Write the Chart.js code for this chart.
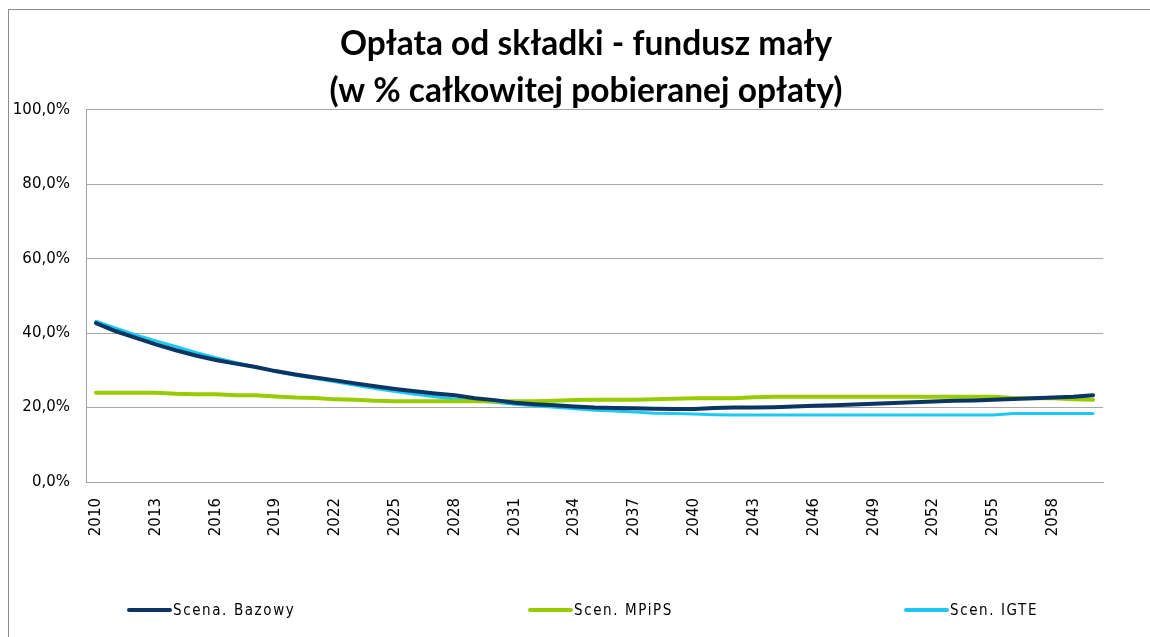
<!DOCTYPE html>
<html>
<head>
<meta charset="utf-8">
<script src="https://cdn.jsdelivr.net/npm/chart.js@4.4.1/dist/chart.umd.min.js"></script>
<style>
    body { margin: 0; background: #fff; }
    #wrap { position: relative; width: 1150px; height: 637px; overflow: hidden; }
    #frame { position: absolute; left: 8px; top: 9px; width: 1200px; height: 700px;
             border-left: 1px solid #8c8c8c; border-top: 1px solid #8c8c8c; pointer-events: none; }
    .leg { position: absolute; top: 600px; height: 20px; display: flex; align-items: center;
           font-family: 'Liberation Sans Narrow', 'DejaVu Sans Condensed', sans-serif;
           font-size: 15px; letter-spacing: 1.6px; color: #000; }
    .leg span.ln { display: inline-block; width: 45px; height: 4px; border-radius: 2px; margin-right: 1px; }
</style>
</head>
<body>
<div id="wrap">
    <canvas id="feeChart" width="1150" height="637"></canvas>
    <div id="frame"></div>
</div>
<script>
// Years 2010..2060
const years = ['2010','2011','2012','2013','2014','2015','2016','2017','2018','2019',
    '2020','2021','2022','2023','2024','2025','2026','2027','2028','2029',
    '2030','2031','2032','2033','2034','2035','2036','2037','2038','2039',
    '2040','2041','2042','2043','2044','2045','2046','2047','2048','2049',
    '2050','2051','2052','2053','2054','2055','2056','2057','2058','2059','2060'];

// Share of total fee, in %
const bazowy = [42.7, 40.5, 38.7, 37.0, 35.4, 34.0, 32.8, 31.8, 30.9, 29.8,
    28.9, 28.1, 27.3, 26.5, 25.7, 25.0, 24.4, 23.8, 23.3, 22.5,
    22.0, 21.3, 20.9, 20.6, 20.3, 20.0, 19.9, 19.8, 19.7, 19.6,
    19.6, 19.9, 20.0, 20.0, 20.1, 20.3, 20.5, 20.6, 20.8, 21.0,
    21.2, 21.4, 21.6, 21.8, 21.9, 22.1, 22.3, 22.5, 22.7, 22.9, 23.3];

const mpips = [24.0, 24.0, 24.0, 24.0, 23.7, 23.6, 23.6, 23.3, 23.3, 23.0,
    22.7, 22.6, 22.2, 22.1, 21.8, 21.7, 21.7, 21.7, 21.7, 21.7,
    21.7, 21.7, 21.7, 21.8, 22.0, 22.1, 22.1, 22.1, 22.2, 22.4,
    22.5, 22.5, 22.5, 22.8, 22.9, 22.9, 22.9, 22.9, 22.9, 22.9,
    22.9, 22.9, 22.9, 22.9, 22.9, 22.9, 22.6, 22.5, 22.5, 22.2, 22.1];

const igte = [43.2, 41.3, 39.5, 37.9, 36.4, 34.8, 33.4, 32.1, 31.0, 29.7,
    28.7, 27.8, 26.9, 26.0, 25.1, 24.3, 23.6, 22.9, 22.3, 21.8,
    21.4, 20.9, 20.5, 20.1, 19.7, 19.3, 19.1, 18.8, 18.5, 18.4,
    18.3, 18.1, 18.0, 18.0, 18.0, 18.0, 18.0, 18.0, 18.0, 18.0,
    18.0, 18.0, 18.0, 18.0, 18.0, 18.0, 18.4, 18.4, 18.4, 18.4, 18.4];

const seriesNames = ['Scena. Bazowy', 'Scen. MPiPS', 'Scen. IGTE'];
const yTicks = [0, 20, 40, 60, 80, 100];

// let the y labels use the space left of the layout padding (no clipping at the scale's left edge)
const widenYLabels = {
    id: 'widenYLabels',
    afterLayout(chart) {
        chart.scales.y.left = 0;
    }
};

const ctx = document.getElementById('feeChart').getContext('2d');

const feeChart = new Chart(ctx, {
    type: 'line',
    data: {
        labels: years,
        datasets: [
            { label: seriesNames[0], data: bazowy, borderColor: '#0b3563', borderWidth: 4 },
            { label: seriesNames[1], data: mpips, borderColor: '#99cc00', borderWidth: 4 },
            { label: seriesNames[2], data: igte, borderColor: '#1ec8f5', borderWidth: 3 }
        ]
    },
    options: {
        responsive: false,
        animation: false,
        elements: { point: { radius: 0 }, line: { tension: 0, borderCapStyle: 'round' } },
        layout: { padding: { left: 22, right: 0, top: 0, bottom: 0 } },
        scales: {
            x: {
                offset: true,
                grid: { display: false, drawTicks: false },
                border: { color: '#a0a0a0', width: 1 },
                ticks: {
                    autoSkip: false,
                    minRotation: 90,
                    maxRotation: 90,
                    padding: 16,
                    color: '#000',
                    font: { family: 'DejaVu Sans', size: 15 },
                    callback: function(value, index) {
                        return index % 3 === 0 ? years[index] : '';
                    }
                },
                afterFit: function(scale) { scale.height = 155; }
            },
            y: {
                min: 0,
                max: 100,
                afterBuildTicks: function(scale) {
                    scale.ticks = yTicks.map(v => ({ value: v }));
                },
                grid: { color: '#a8a8a8', lineWidth: 1, drawTicks: false },
                border: { color: '#a0a0a0', width: 1 },
                ticks: {
                    padding: 16,
                    color: '#000',
                    font: { family: 'DejaVu Sans', size: 15 },
                    callback: function(value) {
                        return value.toFixed(1).replace('.', ',') + '%';
                    }
                },
                afterFit: function(scale) { scale.width = 64; }
            },
            // empty right-hand spacer so the plot ends where the reference does
            yRight: {
                position: 'right',
                min: 0,
                max: 100,
                grid: { display: false, drawTicks: false },
                border: { display: false },
                ticks: { display: false },
                afterFit: function(scale) { scale.width = 47; }
            }
        },
        plugins: {
            legend: { display: false },
            tooltip: { enabled: false },
            title: {
                display: true,
                text: ['Opłata od składki - fundusz mały', '(w % całkowitej pobieranej opłaty)'],
                color: '#000',
                font: { family: 'Lato', size: 33.5, weight: 'bold', lineHeight: 1.4 },
                padding: { top: 21, bottom: -5 }
            }
        }
    },
    plugins: [widenYLabels]
});

// HTML legend built from the datasets
const legendLeft = [127, 528, 904];
feeChart.data.datasets.forEach((ds, i) => {
    const item = document.createElement('div');
    item.className = 'leg';
    item.style.left = legendLeft[i] + 'px';
    item.innerHTML = '<span class="ln" style="background:' + ds.borderColor + '"></span>' + ds.label;
    document.getElementById('wrap').appendChild(item);
});
</script>
</body>
</html>
